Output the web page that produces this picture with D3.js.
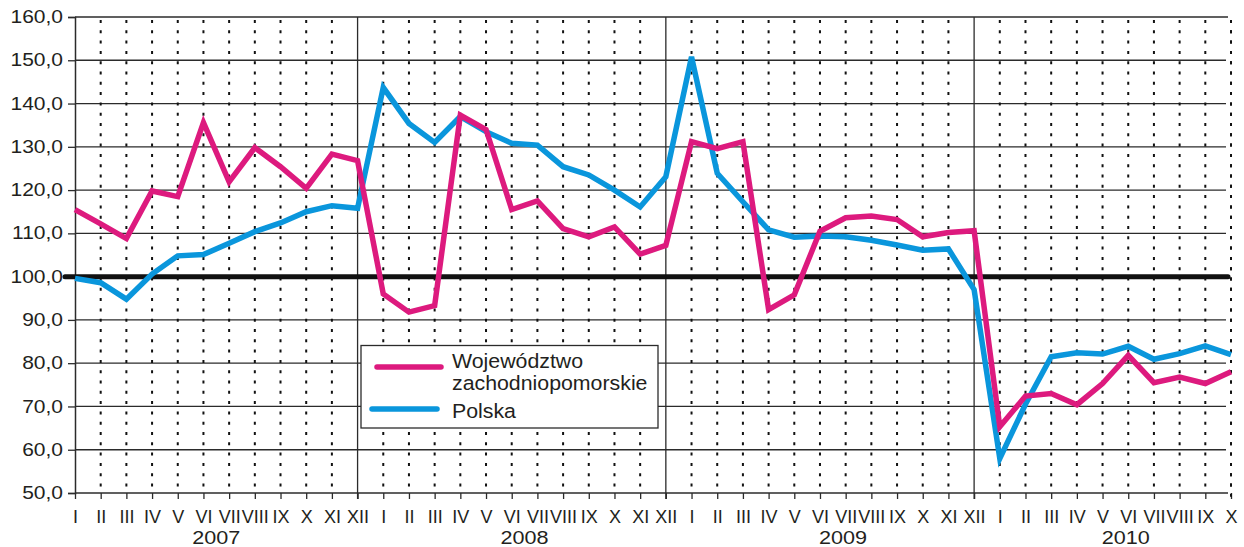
<!DOCTYPE html>
<html>
<head>
<meta charset="utf-8">
<script src="https://cdn.jsdelivr.net/npm/d3@7"></script>
<style>
  body { margin: 0; background: #fff; }
  svg text { font-family: "Liberation Sans", Arial, sans-serif; fill: #231f20; }
</style>
</head>
<body>
<svg id="chart" width="1244" height="547"></svg>
<script>
// months I..XII for 2007-2009, I..X for 2010
const monthLabels = ["I","II","III","IV","V","VI","VII","VIII","IX","X","XI","XII",
                     "I","II","III","IV","V","VI","VII","VIII","IX","X","XI","XII",
                     "I","II","III","IV","V","VI","VII","VIII","IX","X","XI","XII",
                     "I","II","III","IV","V","VI","VII","VIII","IX","X"];
const years = ["2007", "2008", "2009", "2010"];
const yearCenters = [5.5, 17.5, 29.9, 40.9];
const yearBreaks = [11, 23, 35];
const yTicks = [50, 60, 70, 80, 90, 100, 110, 120, 130, 140, 150, 160];

const zachodniopomorskie = [
    115.5, 112.2, 108.8, 119.8, 118.5, 135.6, 121.9, 129.8, 125.4, 120.4, 128.3, 126.8,
    96.0, 91.8, 93.3, 137.3, 134.0, 115.5, 117.5, 111.1, 109.2, 111.5, 105.2, 107.2,
    131.2, 129.6, 131.2, 92.4, 95.8, 110.5, 113.6, 114.0, 113.2, 109.2, 110.2, 110.6,
    65.3, 72.4, 73.0, 70.4, 75.3, 81.8, 75.5, 76.8, 75.3, 78.0
];
const polska = [
    99.6, 98.6, 94.8, 100.6, 104.8, 105.1, 107.7, 110.4, 112.4, 115.0, 116.4, 115.8,
    143.7, 135.4, 131.0, 137.0, 133.5, 130.8, 130.4, 125.4, 123.5, 120.0, 116.1, 123.1,
    150.8, 123.9, 117.3, 110.8, 109.1, 109.4, 109.2, 108.4, 107.3, 106.1, 106.4, 97.0,
    58.0, 70.5, 81.5, 82.4, 82.1, 83.9, 80.9, 82.2, 84.0, 82.0
];
const seriesNames = ["Województwo", "zachodniopomorskie", "Polska"];

const pink = "#dd1a7e";
const blue = "#0a96dc";

const svg = d3.select("#chart");
const plot = {left: 75, right: 1231, top: 17, bottom: 493};
// digits in the original are drawn wider than Liberation Sans
const digitStretch = 1.2;

const x = d3.scaleLinear().domain([0, monthLabels.length - 1]).range([plot.left, plot.right]);
const y = d3.scaleLinear().domain([50, 160]).range([plot.bottom, plot.top]);

// horizontal grid
svg.append("g")
    .selectAll("line")
    .data(yTicks.filter(d => d != 100 && d != 50))
    .enter()
    .append("line")
    .attr("x1", plot.left)
    .attr("x2", d => d == 160 ? plot.right - 3 : plot.right - 5)
    .attr("y1", d => y(d))
    .attr("y2", d => y(d))
    .attr("stroke", "#2b2b2b")
    .attr("stroke-width", 1.3);

// dotted month lines
svg.append("g")
    .selectAll("line")
    .data(d3.range(1, monthLabels.length).filter(i => !yearBreaks.includes(i)))
    .enter()
    .append("line")
    .attr("x1", d => x(d))
    .attr("x2", d => x(d))
    .attr("y1", plot.top + 3)
    .attr("y2", plot.bottom)
    .attr("stroke", "#111")
    .attr("stroke-width", 2)
    .attr("stroke-dasharray", "3,7.3");

// solid year separators
svg.append("g")
    .selectAll("line")
    .data(yearBreaks)
    .enter()
    .append("line")
    .attr("x1", d => x(d))
    .attr("x2", d => x(d))
    .attr("y1", plot.top)
    .attr("y2", plot.bottom + 6)
    .attr("stroke", "#2b2b2b")
    .attr("stroke-width", 1.3);

// y axis
const yAxis = d3.axisLeft(y)
    .tickValues(yTicks)
    .tickSize(7)
    .tickFormat(d => d3.format(".1f")(d).replace(".", ","));
const yg = svg.append("g").attr("transform", `translate(${plot.left},0)`).call(yAxis);
yg.select(".domain").attr("stroke", "#2b2b2b").attr("stroke-width", 1.5);
yg.selectAll(".tick line").attr("stroke", "#2b2b2b").attr("stroke-width", 1.3);
yg.selectAll(".tick text")
    .attr("x", 0)
    .attr("transform", `translate(-12,0) scale(${digitStretch},1)`)
    .attr("font-size", "17.5px")
    .attr("font-family", "Liberation Sans, Arial, sans-serif")
    .attr("fill", "#231f20");

// x axis
const xAxis = d3.axisBottom(x)
    .tickValues(d3.range(monthLabels.length))
    .tickSize(6)
    .tickFormat(i => monthLabels[i]);
const xg = svg.append("g").attr("transform", `translate(0,${plot.bottom})`).call(xAxis);
xg.select(".domain").attr("d", `M${plot.left},0H${plot.right - 3}`).attr("stroke", "#2b2b2b").attr("stroke-width", 1.5);
xg.selectAll(".tick line").attr("stroke", "#2b2b2b").attr("stroke-width", 1.3);
xg.selectAll(".tick text")
    .attr("y", 17)
    .attr("font-size", "18px")
    .attr("font-family", "Liberation Sans, Arial, sans-serif")
    .attr("fill", "#231f20");

svg.append("g")
    .selectAll("text")
    .data(years)
    .enter()
    .append("text")
    .text(d => d)
    .attr("transform", (d, i) => `translate(${x(yearCenters[i])},544) scale(${digitStretch},1)`)
    .attr("text-anchor", "middle")
    .attr("font-size", "18px");

// right dotted edge
svg.append("line")
    .attr("x1", plot.right).attr("x2", plot.right)
    .attr("y1", plot.top + 3).attr("y2", plot.bottom + 6)
    .attr("stroke", "#111")
    .attr("stroke-width", 2)
    .attr("stroke-dasharray", "3,7.3");

// thick 100 line
svg.append("line")
    .attr("x1", plot.left - 10)
    .attr("x2", plot.right - 3)
    .attr("y1", y(100))
    .attr("y2", y(100))
    .attr("stroke", "#111")
    .attr("stroke-width", 5)
    .attr("stroke-linecap", "round");

// series
const line = d3.line()
    .x((d, i) => x(i))
    .y(d => y(d));

svg.append("path")
    .datum(polska)
    .attr("d", line)
    .attr("fill", "none")
    .attr("stroke", blue)
    .attr("stroke-width", 5.5)
    .attr("stroke-linejoin", "miter");

svg.append("path")
    .datum(zachodniopomorskie)
    .attr("d", line)
    .attr("fill", "none")
    .attr("stroke", pink)
    .attr("stroke-width", 5.5)
    .attr("stroke-linejoin", "miter");

// legend
const legend = svg.append("g");
legend.append("rect")
    .attr("x", 361)
    .attr("y", 345.5)
    .attr("width", 297)
    .attr("height", 82.5)
    .attr("fill", "#fff")
    .attr("stroke", "#2b2b2b")
    .attr("stroke-width", 1.3);
legend.append("line")
    .attr("x1", 377).attr("x2", 441)
    .attr("y1", 367).attr("y2", 367)
    .attr("stroke", pink).attr("stroke-width", 5.5).attr("stroke-linecap", "round");
legend.append("line")
    .attr("x1", 372).attr("x2", 437)
    .attr("y1", 409).attr("y2", 409)
    .attr("stroke", blue).attr("stroke-width", 5.5).attr("stroke-linecap", "round");
legend.selectAll("text")
    .data(seriesNames)
    .enter()
    .append("text")
    .text(d => d)
    .attr("transform", (d, i) => `translate(452,${[368, 389.5, 418][i]}) scale(1.04,1)`)
    .attr("font-size", "20.5px");
</script>
</body>
</html>
